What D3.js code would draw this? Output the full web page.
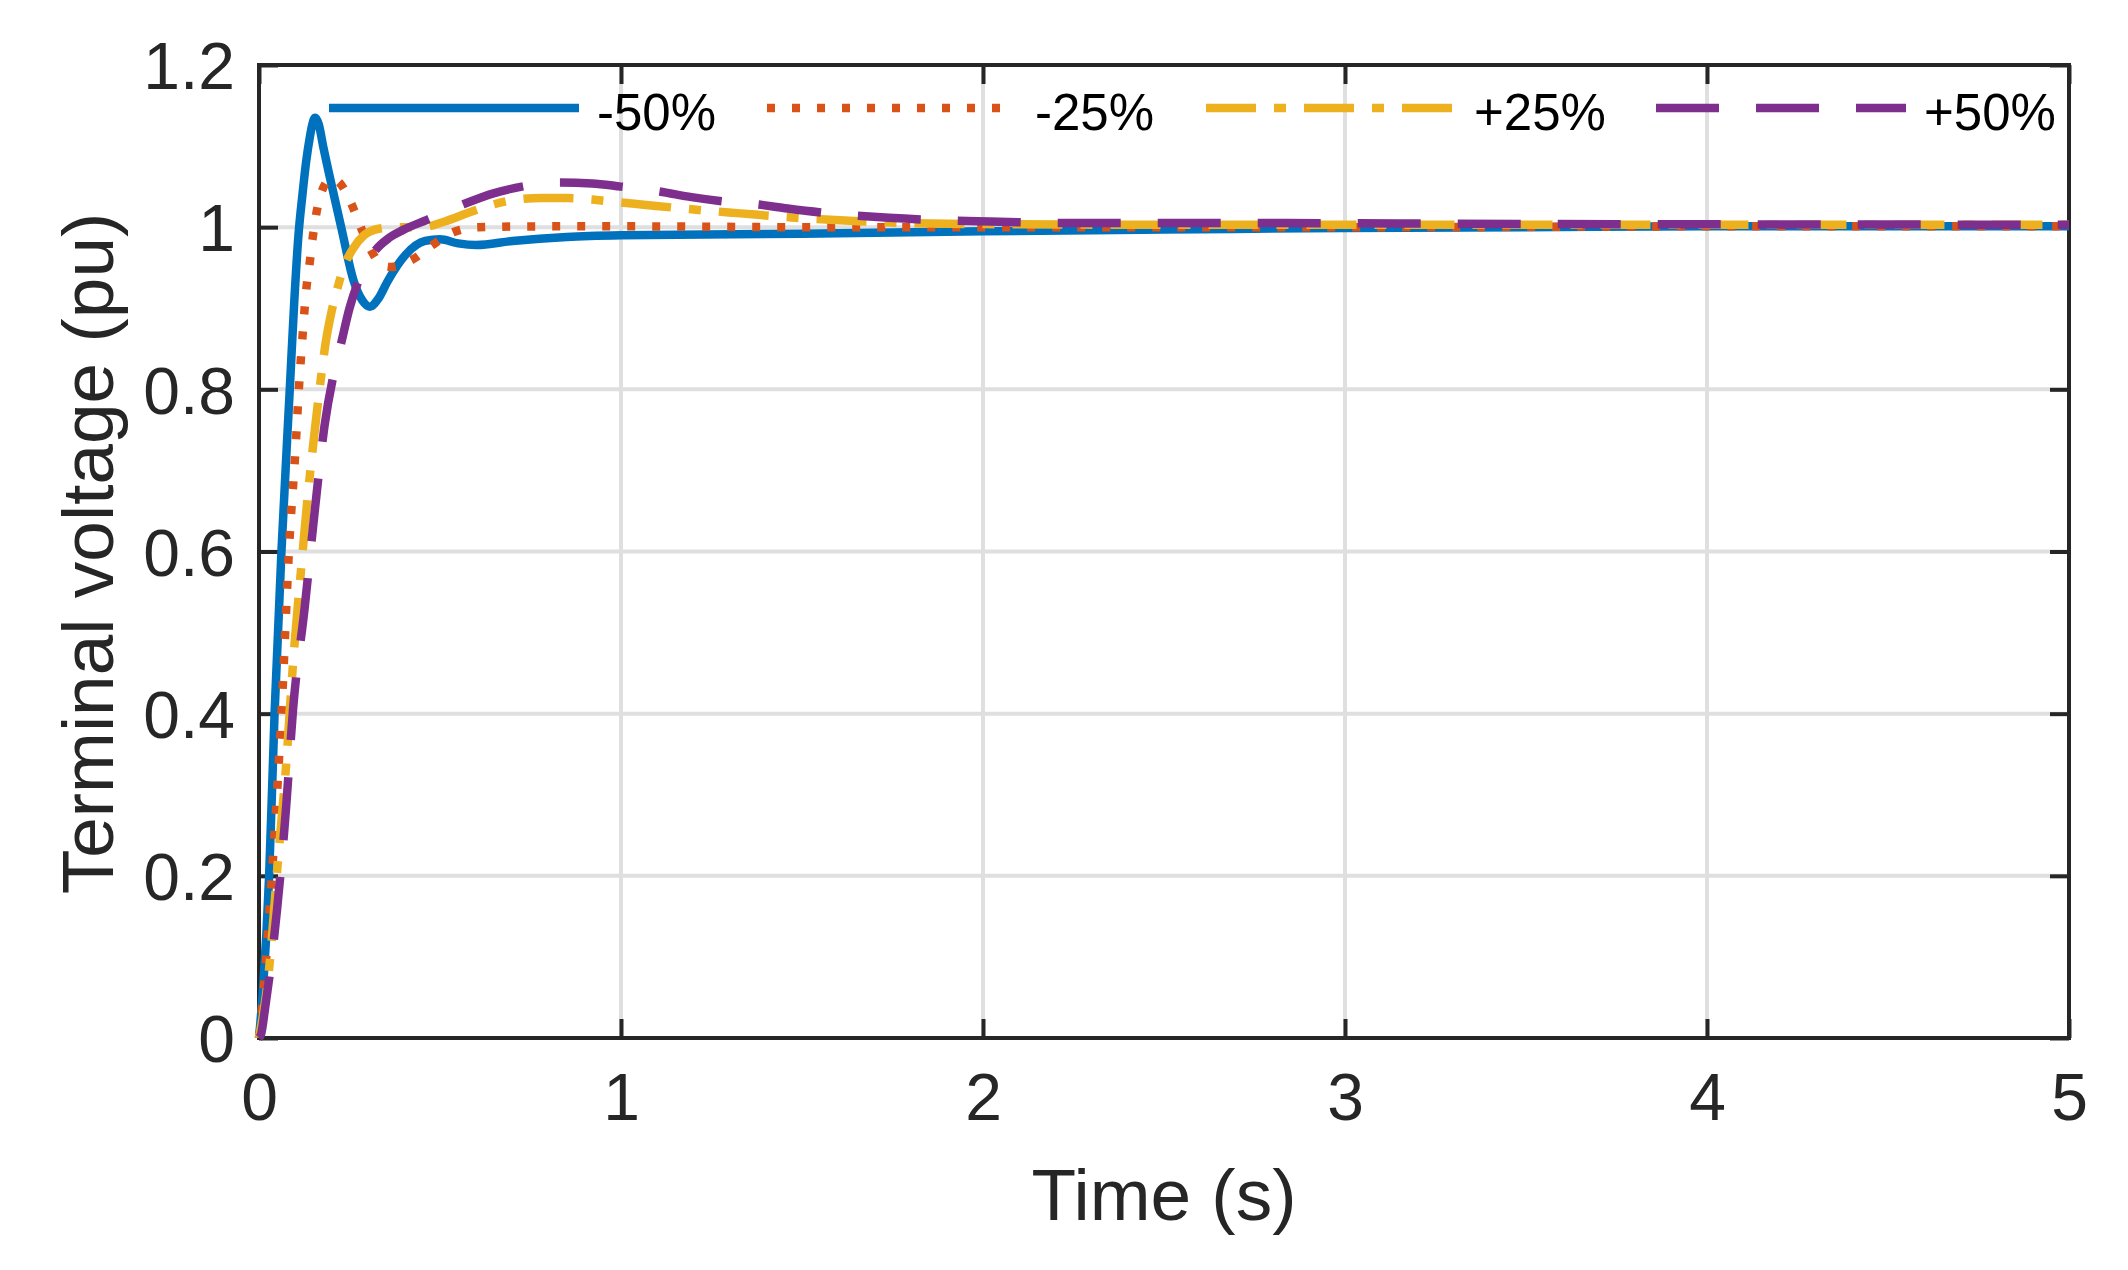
<!DOCTYPE html>
<html>
<head>
<meta charset="utf-8">
<script src="https://cdn.jsdelivr.net/npm/d3@7"></script>
<style>
  html, body { margin: 0; padding: 0; background: #fff; }
  svg { display: block; }
</style>
</head>
<body>
<svg id="chart" width="2128" height="1270"></svg>
<script>
// ---------- data ----------
const seriesNames = ["-50%", "-25%", "+25%", "+50%"];

const timeMinus50 = [0,0.011,0.028,0.043,0.062,0.085,0.097,0.109,0.12,0.13,0.14,0.148,0.155,0.165,0.178,0.198,0.227,0.262,0.285,0.306,0.33,0.355,0.405,0.459,0.5,0.55,0.6,0.7,0.85,1.0,1.5,2.0,2.5,3.0,3.5,4,4.5,5];
const voltMinus50 = [0,0.06,0.2,0.4,0.6,0.8,0.905,0.99,1.04,1.08,1.11,1.128,1.135,1.127,1.098,1.057,1.0,0.933,0.91,0.902,0.912,0.933,0.966,0.983,0.985,0.98,0.978,0.983,0.988,0.99,0.992,0.995,0.997,0.999,1.0,1.001,1.001,1.001];

const timeMinus25 = [0,0.013,0.034,0.062,0.085,0.1,0.11,0.12,0.131,0.14,0.148,0.158,0.175,0.2,0.222,0.254,0.281,0.309,0.34,0.365,0.424,0.479,0.538,0.607,0.8,1.0,1.5,2,3,4,5];
const voltMinus25 = [0,0.06,0.19,0.4,0.62,0.72,0.8,0.864,0.925,0.956,0.986,1.016,1.046,1.06,1.055,1.03,1.0,0.972,0.953,0.951,0.96,0.978,0.994,1.0,1.001,1.001,1.0,1.0,1.0,1.001,1.001];

const timePlus25 = [0,0.029,0.052,0.075,0.094,0.117,0.135,0.153,0.17,0.185,0.2,0.217,0.232,0.262,0.29,0.33,0.375,0.45,0.513,0.58,0.647,0.71,0.78,0.85,0.92,0.987,1.056,1.195,1.33,1.47,1.67,1.955,2.5,3,4,5];
const voltPlus25 = [0,0.09,0.217,0.337,0.462,0.582,0.67,0.745,0.81,0.86,0.895,0.925,0.948,0.975,0.99,0.998,1.0,1.0,1.007,1.018,1.028,1.034,1.036,1.036,1.034,1.031,1.028,1.022,1.017,1.012,1.007,1.004,1.003,1.003,1.003,1.003];

const timePlus50 = [0,0.006,0.016,0.05,0.075,0.094,0.126,0.154,0.181,0.207,0.227,0.25,0.271,0.295,0.316,0.36,0.4,0.464,0.563,0.65,0.726,0.83,0.92,1.0,1.106,1.195,1.278,1.377,1.46,1.6,1.74,2.02,2.29,2.84,3.5,4,5];
const voltPlus50 = [0,0.005,0.034,0.159,0.285,0.405,0.53,0.65,0.755,0.82,0.857,0.9,0.929,0.952,0.968,0.987,0.997,1.009,1.028,1.042,1.05,1.055,1.054,1.05,1.044,1.037,1.032,1.028,1.023,1.016,1.0115,1.007,1.005,1.005,1.004,1.0035,1.003];

const xTicks = [0, 1, 2, 3, 4, 5];
const xTickLabels = ["0", "1", "2", "3", "4", "5"];
const yTicks = [0, 0.2, 0.4, 0.6, 0.8, 1.0, 1.2];
const yTickLabels = ["0", "0.2", "0.4", "0.6", "0.8", "1", "1.2"];

const xLabel = "Time (s)";
const yLabel = "Terminal voltage (pu)";

// ---------- styles ----------
const colors = ["#0072BD", "#D95319", "#EDB120", "#7E2F8E"];
const dashes = [null, "8 17", "50 18 12 18", "63 37"];
const axisColor = "#262626";
const gridColor = "#DFDFDF";
const font = "'Liberation Sans', Arial, Helvetica, sans-serif";

const series = [
  { name: seriesNames[0], t: timeMinus50, v: voltMinus50 },
  { name: seriesNames[1], t: timeMinus25, v: voltMinus25 },
  { name: seriesNames[2], t: timePlus25, v: voltPlus25 },
  { name: seriesNames[3], t: timePlus50, v: voltPlus50 }
];

// ---------- layout ----------
const plot = { left: 259, right: 2069, top: 65, bottom: 1038 };
const svg = d3.select("#chart");

const x = d3.scaleLinear().domain([0, 5]).range([plot.left, plot.right]);
const y = d3.scaleLinear().domain([0, 1.2]).range([plot.bottom, plot.top]);

// grid
const grid = svg.append("g");
grid.selectAll("line.gx").data(xTicks.filter(d => d > 0 && d < 5)).enter()
  .append("line")
  .attr("x1", d => x(d)).attr("x2", d => x(d))
  .attr("y1", plot.top).attr("y2", plot.bottom)
  .attr("stroke", gridColor).attr("stroke-width", 4);
grid.selectAll("line.gy").data(yTicks.filter(d => d > 0 && d < 1.2)).enter()
  .append("line")
  .attr("y1", d => y(d)).attr("y2", d => y(d))
  .attr("x1", plot.left).attr("x2", plot.right)
  .attr("stroke", gridColor).attr("stroke-width", 4);

// axes (ticks inward, all four sides)
function styleAxis(g) {
  g.select(".domain").remove();
  g.selectAll(".tick line").attr("stroke", axisColor).attr("stroke-width", 4);
  g.selectAll(".tick text").attr("fill", axisColor).style("font-family", font).style("font-size", "66px");
}
const tickLen = 19;
svg.append("g").attr("transform", `translate(0,${plot.bottom})`)
  .call(d3.axisBottom(x).tickValues(xTicks).tickFormat((d, i) => xTickLabels[i])
    .tickSizeInner(-tickLen).tickSizeOuter(0).tickPadding(35))
  .call(styleAxis);
svg.append("g").attr("transform", `translate(0,${plot.top})`)
  .call(d3.axisTop(x).tickValues(xTicks).tickFormat("")
    .tickSizeInner(-tickLen).tickSizeOuter(0))
  .call(styleAxis);
const yAxisG = svg.append("g").attr("transform", `translate(${plot.left},0)`)
  .call(d3.axisLeft(y).tickValues(yTicks).tickFormat((d, i) => yTickLabels[i])
    .tickSizeInner(-tickLen).tickSizeOuter(0).tickPadding(24))
  .call(styleAxis);
yAxisG.selectAll(".tick text").attr("dy", "0.36em");
svg.append("g").attr("transform", `translate(${plot.right},0)`)
  .call(d3.axisRight(y).tickValues(yTicks).tickFormat("")
    .tickSizeInner(-tickLen).tickSizeOuter(0))
  .call(styleAxis);

// box
svg.append("rect")
  .attr("x", plot.left).attr("y", plot.top)
  .attr("width", plot.right - plot.left).attr("height", plot.bottom - plot.top)
  .attr("fill", "none").attr("stroke", axisColor).attr("stroke-width", 4);

// data lines
const line = d3.line()
  .x(d => x(d[0]))
  .y(d => y(d[1]))
  .curve(d3.curveMonotoneX);

svg.append("g").selectAll("path").data(series).enter()
  .append("path")
  .attr("d", s => line(s.t.map((t, i) => [t, s.v[i]])))
  .attr("fill", "none")
  .attr("stroke", (s, i) => colors[i])
  .attr("stroke-width", 8.5)
  .attr("stroke-linejoin", "round")
  .attr("stroke-linecap", "butt")
  .attr("stroke-dasharray", (s, i) => dashes[i]);

// legend (horizontal, no box)
const legendStarts = [329, 767, 1206, 1656];
const legendY = 108;
const legendLineLen = 250;
const lg = svg.append("g");
series.forEach((s, i) => {
  lg.append("line")
    .attr("x1", legendStarts[i]).attr("x2", legendStarts[i] + legendLineLen)
    .attr("y1", legendY).attr("y2", legendY)
    .attr("stroke", colors[i]).attr("stroke-width", 8.5)
    .attr("stroke-linecap", "butt")
    .attr("stroke-dasharray", dashes[i]);
  lg.append("text")
    .attr("x", legendStarts[i] + legendLineLen + 18)
    .attr("y", 130)
    .attr("fill", "#000")
    .style("font-family", font).style("font-size", "51px")
    .text(s.name);
});

// axis labels
svg.append("text")
  .attr("x", (plot.left + plot.right) / 2).attr("y", 1220)
  .attr("text-anchor", "middle").attr("fill", axisColor)
  .style("font-family", font).style("font-size", "73px")
  .text(xLabel);
svg.append("text")
  .attr("transform", `translate(113,${(plot.top + plot.bottom) / 2 + 2}) rotate(-90)`)
  .attr("text-anchor", "middle").attr("fill", axisColor)
  .style("font-family", font).style("font-size", "73px")
  .text(yLabel);
</script>
</body>
</html>
